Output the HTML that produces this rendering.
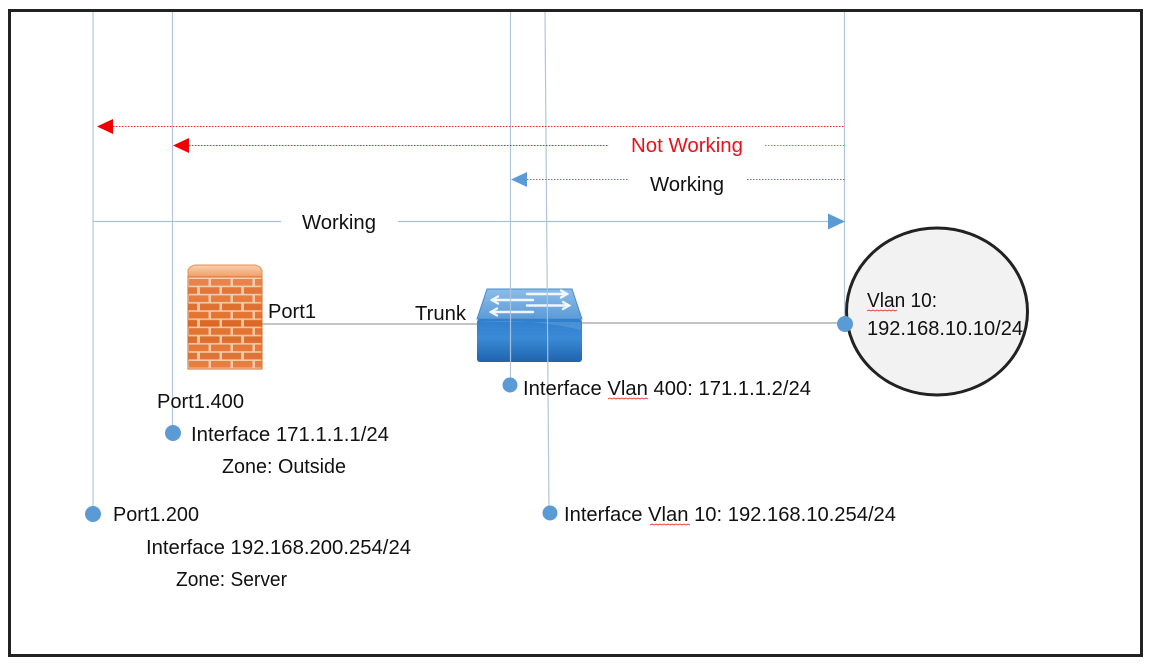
<!DOCTYPE html>
<html>
<head>
<meta charset="utf-8">
<style>
  html,body{margin:0;padding:0;background:#fff;}
  svg{display:block;}
  text{font-family:"Liberation Sans", sans-serif; font-size:20px; fill:#111;}
</style>
</head>
<body>
<svg width="1151" height="671" viewBox="0 0 1151 671" xmlns="http://www.w3.org/2000/svg">
  <defs>
    <pattern id="bricks" patternUnits="userSpaceOnUse" x="188" y="278" width="44" height="16.4">
      <rect x="0" y="0" width="44" height="16.4" fill="#f6c6a2"/>
      <rect x="1" y="1" width="19.5" height="6.6" fill="#e2722f"/>
      <rect x="23" y="1" width="19.5" height="6.6" fill="#e2722f"/>
      <rect x="0" y="9.2" width="9" height="6.6" fill="#dc6826"/>
      <rect x="12" y="9.2" width="19.5" height="6.6" fill="#dc6826"/>
      <rect x="34" y="9.2" width="10" height="6.6" fill="#dc6826"/>
    </pattern>
    <linearGradient id="fwtop" x1="0" y1="0" x2="0" y2="1">
      <stop offset="0" stop-color="#fbd0ae"/>
      <stop offset="1" stop-color="#f0995e"/>
    </linearGradient>
    <linearGradient id="fwshade" x1="0" y1="0" x2="0" y2="1">
      <stop offset="0" stop-color="#ffffff" stop-opacity="0.15"/>
      <stop offset="0.5" stop-color="#ffffff" stop-opacity="0"/>
      <stop offset="1" stop-color="#ffffff" stop-opacity="0.1"/>
    </linearGradient>
    <linearGradient id="swtop" x1="0" y1="0" x2="0" y2="1">
      <stop offset="0" stop-color="#8cbde9"/>
      <stop offset="1" stop-color="#5b9bd8"/>
    </linearGradient>
    <linearGradient id="swfront" x1="0" y1="0" x2="0" y2="1">
      <stop offset="0" stop-color="#2f7fcd"/>
      <stop offset="0.45" stop-color="#3a8ad6"/>
      <stop offset="1" stop-color="#1f63ad"/>
    </linearGradient>
  </defs>

  <!-- frame -->
  <rect x="9.5" y="10.5" width="1132" height="645" fill="#fff" stroke="#222" stroke-width="3"/>

  <!-- connection lines -->
  <line x1="262" y1="324" x2="478" y2="324" stroke="#8a8a8a" stroke-width="1"/>
  <line x1="582" y1="323" x2="845" y2="323" stroke="#8a8a8a" stroke-width="1"/>

  <!-- circle host -->
  <ellipse cx="937" cy="311.5" rx="90.5" ry="83.5" fill="#f2f2f2" stroke="#222" stroke-width="3"/>

  <!-- firewall -->
  <path d="M195,265 L255,265 Q260,266 262,270 L262,278 L188,278 L188,270 Q190,266 195,265 Z" fill="url(#fwtop)" stroke="#e0925e" stroke-width="1"/>
  <rect x="188" y="277" width="74" height="92" fill="url(#bricks)" stroke="#d06a2c" stroke-width="1"/>
  <rect x="188" y="277" width="74" height="92" fill="url(#fwshade)"/>

  <!-- switch -->
  <polygon points="487,289 572,289 582,319 477,319" fill="url(#swtop)" stroke="#4a8ccc" stroke-width="1"/>
  <rect x="477" y="319" width="105" height="43" rx="3" fill="url(#swfront)"/>
  <path d="M478 322 Q530 318 581 330 L581 322 Z" fill="#ffffff" opacity="0.12"/>
  <g stroke="#ffffff" stroke-width="2.4" fill="none" stroke-linecap="round" opacity="0.9">
    <line x1="527" y1="294" x2="567" y2="294"/><polyline points="561,290.5 567,294 561,297.5"/>
    <line x1="492" y1="300" x2="533" y2="300"/><polyline points="498,296.5 492,300 498,303.5"/>
    <line x1="527" y1="305.5" x2="569" y2="305.5"/><polyline points="563,302 569,305.5 563,309"/>
    <line x1="491" y1="312" x2="533" y2="312"/><polyline points="497,308.5 491,312 497,315.5"/>
  </g>

  <!-- vertical lifelines -->
  <g stroke="#adc3da" stroke-width="1.2" opacity="0.95">
    <line x1="93" y1="12" x2="93" y2="513"/>
    <line x1="172.5" y1="12" x2="172.5" y2="432"/>
    <line x1="510.5" y1="12" x2="510.5" y2="385"/>
    <line x1="545" y1="12" x2="549" y2="513"/>
    <line x1="844.5" y1="12" x2="844.5" y2="323"/>
  </g>

  <!-- red dotted arrow 1 -->
  <line x1="113" y1="126.5" x2="845" y2="126.5" stroke="#ee2222" stroke-width="1" stroke-dasharray="1.5,1.5"/>
  <polygon points="97,126.5 113,119 113,134" fill="#ee0000"/>

  <!-- red dotted arrow 2 (Not Working) -->
  <line x1="189" y1="145.5" x2="609" y2="145.5" stroke="#ee2222" stroke-width="1" stroke-dasharray="1.5,1.5"/>
  <line x1="765" y1="145.5" x2="845" y2="145.5" stroke="#f06060" stroke-width="1" stroke-dasharray="1.5,1.5"/>
  <polygon points="173,145.5 189,138 189,153" fill="#ee0000"/>
  <text x="631" y="152" textLength="112" lengthAdjust="spacingAndGlyphs" style="fill:#e8121b">Not Working</text>

  <!-- blue dotted arrow (Working) -->
  <line x1="527" y1="179.5" x2="628" y2="179.5" stroke="#4a7fbf" stroke-width="1" stroke-dasharray="1.5,1.5"/>
  <line x1="747" y1="179.5" x2="845" y2="179.5" stroke="#4a7fbf" stroke-width="1" stroke-dasharray="1.5,1.5"/>
  <polygon points="511,179.5 527,172 527,187" fill="#5b9bd5"/>
  <text x="650" y="191" textLength="74" lengthAdjust="spacingAndGlyphs">Working</text>

  <!-- solid arrow (Working) -->
  <line x1="93" y1="221.5" x2="281" y2="221.5" stroke="#a9c1da" stroke-width="1.2"/>
  <line x1="398" y1="221.5" x2="829" y2="221.5" stroke="#a9c1da" stroke-width="1.2"/>
  <polygon points="845,221.5 828,213.5 828,229.5" fill="#5b9bd5"/>
  <text x="302" y="229" textLength="74" lengthAdjust="spacingAndGlyphs">Working</text>

  <!-- dots -->
  <g fill="#5b9bd5">
    <circle cx="173" cy="433" r="8"/>
    <circle cx="93" cy="514" r="8"/>
    <circle cx="510" cy="385" r="7.5"/>
    <circle cx="550" cy="513" r="7.5"/>
    <circle cx="845" cy="324" r="8"/>
  </g>

  <!-- labels -->
  <text x="268" y="318" textLength="48" lengthAdjust="spacingAndGlyphs">Port1</text>
  <text x="415" y="320" textLength="51" lengthAdjust="spacingAndGlyphs">Trunk</text>
  <text x="157" y="408" textLength="87" lengthAdjust="spacingAndGlyphs">Port1.400</text>
  <text x="191" y="441" textLength="198" lengthAdjust="spacingAndGlyphs">Interface 171.1.1.1/24</text>
  <text x="222" y="473" textLength="124" lengthAdjust="spacingAndGlyphs">Zone: Outside</text>
  <text x="113" y="521" textLength="86" lengthAdjust="spacingAndGlyphs">Port1.200</text>
  <text x="146" y="554" textLength="265" lengthAdjust="spacingAndGlyphs">Interface 192.168.200.254/24</text>
  <text x="176" y="586" textLength="111" lengthAdjust="spacingAndGlyphs">Zone: Server</text>
  <text x="523" y="395" textLength="288" lengthAdjust="spacingAndGlyphs">Interface Vlan 400: 171.1.1.2/24</text>
  <text x="564" y="521" textLength="332" lengthAdjust="spacingAndGlyphs">Interface Vlan 10: 192.168.10.254/24</text>
  <text x="867" y="307" textLength="70" lengthAdjust="spacingAndGlyphs">Vlan 10:</text>
  <text x="867" y="335" textLength="156" lengthAdjust="spacingAndGlyphs">192.168.10.10/24</text>

  <!-- spell-check squiggles -->
  <g stroke="#e03030" stroke-width="0.8" fill="none">
    <polyline points="608,399 610,398 612,399 614,398 616,399 618,398 620,399 622,398 624,399 626,398 628,399 630,398 632,399 634,398 636,399 638,398 640,399 642,398 644,399 646,398 648,399"/>
    <polyline points="650,525 652,524 654,525 656,524 658,525 660,524 662,525 664,524 666,525 668,524 670,525 672,524 674,525 676,524 678,525 680,524 682,525 684,524 686,525 688,524 690,525"/>
    <polyline points="867,311 869,310 871,311 873,310 875,311 877,310 879,311 881,310 883,311 885,310 887,311 889,310 891,311 893,310 895,311 897,310"/>
  </g>
</svg>
</body>
</html>
